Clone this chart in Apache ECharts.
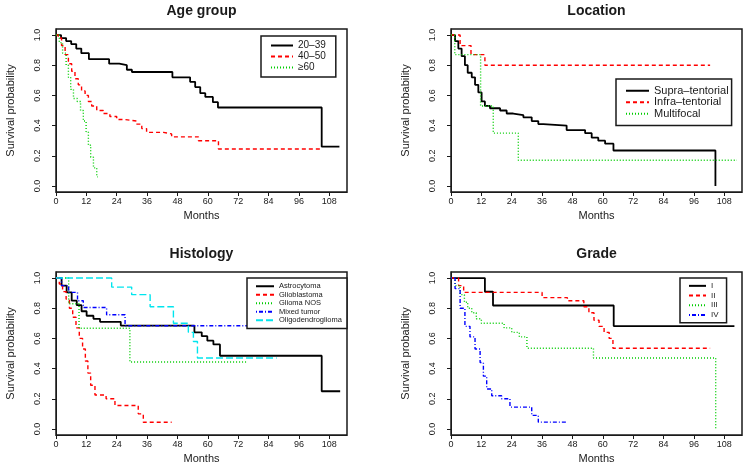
<!DOCTYPE html>
<html>
<head>
<meta charset="utf-8">
<title>Survival curves</title>
<script src="https://cdn.jsdelivr.net/npm/echarts@6/dist/echarts.min.js"></script>
<style>
    html, body { margin: 0; padding: 0; background: #fff; }
    #chart { width: 751px; height: 466px; }
</style>
</head>
<body>
<div id="chart"></div>
<script>
// tick labels
var xTicks = [0, 12, 24, 36, 48, 60, 72, 84, 96, 108];
var yTicks = [0, 0.2, 0.4, 0.6, 0.8, 1.0];

// Age group
var age2039Months = [0, 2, 4, 6, 8, 10, 13, 21, 25, 28, 30, 46, 53, 55, 57, 59, 62, 64, 105, 112];
var age2039Surv = [1, 0.98, 0.96, 0.94, 0.91, 0.88, 0.84, 0.81, 0.80, 0.77, 0.755, 0.72, 0.69, 0.655, 0.615, 0.59, 0.555, 0.52, 0.26, 0.26];
var age4050Months = [0, 0.9, 2.2, 3.6, 4.9, 6.2, 7.5, 8.8, 10.1, 11.5, 12.8, 14.1, 16.1, 18.7, 21.3, 24, 27.3, 31.9, 33.9, 35.8, 42.4, 45.7, 56.3, 64.2, 105];
var age4050Surv = [1, 0.98, 0.93, 0.87, 0.81, 0.76, 0.71, 0.67, 0.63, 0.60, 0.56, 0.53, 0.50, 0.48, 0.46, 0.44, 0.43, 0.41, 0.38, 0.355, 0.345, 0.325, 0.30, 0.245, 0.245];
var age60Months = [0, 1.3, 2.6, 4, 4.9, 5.8, 6.9, 8.4, 9.7, 10.8, 11.9, 12.8, 13.7, 14.8, 16.1, 16.5];
var age60Surv = [1, 0.95, 0.88, 0.80, 0.72, 0.64, 0.58, 0.56, 0.50, 0.43, 0.36, 0.27, 0.19, 0.12, 0.06, 0.06];

// Location
var supraMonths = [0, 1.6, 2.9, 4.2, 5.5, 6.6, 8.2, 9.5, 10.8, 12.1, 13.4, 15.4, 19.4, 22, 24.6, 28.6, 31.9, 34.5, 36.5, 45.7, 53, 55.6, 58.2, 60.9, 64.2, 104.5];
var supraSurv = [1, 0.96, 0.91, 0.86, 0.80, 0.75, 0.72, 0.67, 0.62, 0.56, 0.53, 0.515, 0.50, 0.48, 0.47, 0.455, 0.43, 0.41, 0.40, 0.37, 0.35, 0.32, 0.30, 0.28, 0.235, 0];
var infraMonths = [0, 3.6, 7.9, 13.4, 102.4];
var infraSurv = [1, 0.93, 0.87, 0.80, 0.80];
var multiMonths = [0, 1.5, 11.7, 16.7, 26.6, 113];
var multiSurv = [1, 0.87, 0.53, 0.35, 0.17, 0.17];

// Histology
var astroMonths = [0, 2.2, 4.2, 6.2, 8.2, 10.1, 12.1, 14.8, 17.4, 25.6, 54.7, 57.6, 59.8, 62.2, 64.8, 105, 112.3];
var astroSurv = [1, 0.95, 0.905, 0.85, 0.82, 0.78, 0.75, 0.73, 0.71, 0.685, 0.64, 0.615, 0.585, 0.56, 0.485, 0.25, 0.25];
var gbmMonths = [0, 1.3, 2.6, 4, 5.3, 6.6, 7.9, 9.2, 10.5, 11.6, 12.6, 13.7, 15.4, 19.8, 23.3, 32.5, 34.5, 45.7];
var gbmSurv = [1, 0.96, 0.91, 0.86, 0.80, 0.74, 0.67, 0.60, 0.53, 0.45, 0.37, 0.29, 0.225, 0.20, 0.155, 0.10, 0.044, 0.044];
var nosMonths = [0, 5, 9.1, 29.2, 75.4];
var nosSurv = [1, 0.83, 0.667, 0.444, 0.444];
var mixedMonths = [0, 2.2, 5, 8.5, 10.8, 20, 27.3, 114];
var mixedSurv = [1, 0.95, 0.905, 0.85, 0.805, 0.757, 0.684, 0.684];
var oligoMonths = [0, 22, 29.9, 37.2, 46.4, 52.3, 54.3, 55.9, 87.2];
var oligoSurv = [1, 0.94, 0.89, 0.81, 0.70, 0.64, 0.58, 0.47, 0.47];

// Grade
var g1Months = [0, 13.4, 16.6, 64.3, 112];
var g1Surv = [1, 0.909, 0.818, 0.682, 0.682];
var g2Months = [0, 3, 5, 36, 46, 52.5, 54.5, 56.5, 58.5, 60.5, 62.5, 64, 102.4];
var g2Surv = [1, 0.95, 0.905, 0.87, 0.85, 0.81, 0.77, 0.72, 0.68, 0.64, 0.60, 0.535, 0.535];
var g3Months = [0, 1.6, 3.6, 5.3, 6.6, 8.2, 10, 12, 21, 24, 27, 30, 56.3, 104.6];
var g3Surv = [1, 0.95, 0.89, 0.84, 0.80, 0.77, 0.73, 0.70, 0.67, 0.64, 0.61, 0.535, 0.47, 0];
var g4Months = [0, 1.6, 3.6, 5.5, 7.5, 9.5, 11.5, 12.8, 14.1, 16.1, 20, 23.3, 31.9, 34.5, 45.7];
var g4Surv = [1, 0.93, 0.80, 0.68, 0.61, 0.53, 0.44, 0.35, 0.265, 0.22, 0.20, 0.145, 0.09, 0.045, 0.045];

// R default palette / line types
var SOLID = 'solid', DASHED = [4, 3], DOTTED = [1, 2], DOTDASH = [1, 2, 4, 2], LONGDASH = [7, 3];

var panels = [
    {
        title: 'Age group', left: 56, top: 29,
        legend: { left: 261, top: 36, padding: [4, 10, 4, 9], itemWidth: 22, itemHeight: 11, fontSize: 10 },
        curves: [
            { name: '20\u201339', months: age2039Months, surv: age2039Surv, color: '#000', type: SOLID },
            { name: '40\u201350', months: age4050Months, surv: age4050Surv, color: '#ff0000', type: DASHED },
            { name: '\u226560', months: age60Months, surv: age60Surv, color: '#00cd00', type: DOTTED }
        ]
    },
    {
        title: 'Location', left: 451, top: 29,
        legend: { left: 616, top: 79, padding: [6, 3, 6, 9], itemWidth: 23, itemHeight: 11.5, fontSize: 11 },
        curves: [
            { name: 'Supra\u2013tentorial', months: supraMonths, surv: supraSurv, color: '#000', type: SOLID },
            { name: 'Infra\u2013tentorial', months: infraMonths, surv: infraSurv, color: '#ff0000', type: DASHED },
            { name: 'Multifocal', months: multiMonths, surv: multiSurv, color: '#00cd00', type: DOTTED }
        ]
    },
    {
        title: 'Histology', left: 56, top: 272,
        legend: { left: 247, top: 278, padding: [4, 5, 4, 8], itemWidth: 18, itemHeight: 8.5, fontSize: 7.5 },
        curves: [
            { name: 'Astrocytoma', months: astroMonths, surv: astroSurv, color: '#000', type: SOLID },
            { name: 'Glioblastoma', months: gbmMonths, surv: gbmSurv, color: '#ff0000', type: DASHED },
            { name: 'Glioma NOS', months: nosMonths, surv: nosSurv, color: '#00cd00', type: DOTTED },
            { name: 'Mixed tumor', months: mixedMonths, surv: mixedSurv, color: '#0000ff', type: DOTDASH },
            { name: 'Oligodendroglioma', months: oligoMonths, surv: oligoSurv, color: '#00e5ee', type: LONGDASH }
        ]
    },
    {
        title: 'Grade', left: 451, top: 272,
        legend: { left: 680, top: 278, padding: [3, 8, 3, 8], itemWidth: 17, itemHeight: 9.7, fontSize: 8 },
        curves: [
            { name: 'I', months: g1Months, surv: g1Surv, color: '#000', type: SOLID },
            { name: 'II', months: g2Months, surv: g2Surv, color: '#ff0000', type: DASHED },
            { name: 'III', months: g3Months, surv: g3Surv, color: '#00cd00', type: DOTTED },
            { name: 'IV', months: g4Months, surv: g4Surv, color: '#0000ff', type: DOTDASH }
        ]
    }
];

var GRID_W = 291, GRID_H = 163;
var INK = '#1a1a1a';

function zip(xs, ys) {
    return xs.map(function (x, i) { return [x, ys[i]]; });
}

var chartMgr = {

    init: function () {
        var myChart = echarts.init(document.getElementById('chart'), null, { renderer: 'canvas' });
        var option = {
            animation: false,
            backgroundColor: '#fff',
            textStyle: { fontFamily: 'Liberation Sans, Arial, sans-serif', color: INK },
            title: [], grid: [], xAxis: [], yAxis: [], legend: [], series: []
        };

        panels.forEach(function (p, i) {
            option.title.push({
                text: p.title,
                left: p.left + GRID_W / 2,
                top: p.top - 25,
                textAlign: 'center',
                padding: 0,
                textStyle: { fontSize: 14, fontWeight: 'bold', color: INK }
            });
            option.grid.push({
                left: p.left, top: p.top, width: GRID_W, height: GRID_H,
                show: true, borderColor: INK, borderWidth: 1.5
            });
            option.xAxis.push({
                gridIndex: i, type: 'value', min: 0, max: 115,
                name: 'Months', nameLocation: 'middle', nameGap: 18,
                nameTextStyle: { fontSize: 11, color: INK },
                axisLine: { show: true, onZero: false, lineStyle: { color: INK, width: 1 } },
                axisTick: { show: true, length: 4, customValues: xTicks, lineStyle: { color: INK } },
                axisLabel: { customValues: xTicks, fontSize: 9, margin: 5, color: INK },
                splitLine: { show: false }
            });
            option.yAxis.push({
                gridIndex: i, type: 'value', min: -0.04, max: 1.04,
                name: 'Survival probability', nameLocation: 'middle', nameGap: 40,
                nameTextStyle: { fontSize: 11, color: INK },
                axisLine: { show: true, onZero: false, lineStyle: { color: INK, width: 1 } },
                axisTick: { show: true, length: 4, customValues: yTicks, lineStyle: { color: INK } },
                axisLabel: {
                    customValues: yTicks, rotate: 90, fontSize: 9, margin: 14, color: INK,
                    formatter: function (v) { return v.toFixed(1); }
                },
                splitLine: { show: false }
            });
            option.legend.push({
                data: p.curves.map(function (c) { return c.name; }),
                orient: 'vertical',
                left: p.legend.left, top: p.legend.top,
                padding: p.legend.padding,
                itemWidth: p.legend.itemWidth, itemHeight: p.legend.itemHeight, itemGap: 0,
                borderColor: INK, borderWidth: 1.5, borderRadius: 0,
                backgroundColor: '#fff',
                selectedMode: false,
                itemStyle: { opacity: 0 },
                textStyle: { fontSize: p.legend.fontSize, lineHeight: p.legend.itemHeight, color: INK, padding: 0 }
            });
            p.curves.forEach(function (c) {
                option.series.push({
                    type: 'line', name: c.name,
                    xAxisIndex: i, yAxisIndex: i,
                    step: 'end', symbol: 'none', silent: true,
                    data: zip(c.months, c.surv),
                    itemStyle: { color: c.color },
                    lineStyle: { color: c.color, width: c.type === SOLID ? 1.8 : 1.4, type: c.type }
                });
            });
        });

        myChart.setOption(option);
    }
};

chartMgr.init();
</script>
</body>
</html>
